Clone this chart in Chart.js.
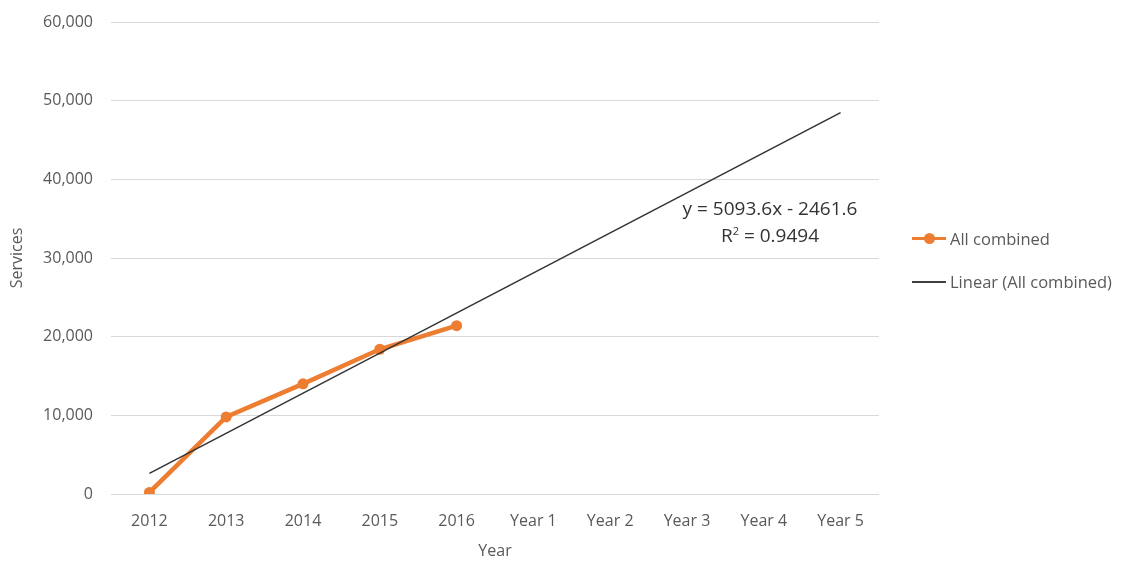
<!DOCTYPE html>
<html lang="en">
<head>
    <meta charset="UTF-8">
    <title>Services by Year</title>
    <script src="https://cdn.jsdelivr.net/npm/chart.js"></script>
    <style>
        body { margin: 0; background: #fff; font-family: "Open Sans", sans-serif; }
        .wrap { position: relative; width: 1139px; height: 562px; }
        .eq { position: absolute; left: 670px; width: 200px; text-align: center; color: #333; font-size: 19px; line-height: 22px; }
        .legend { position: absolute; left: 912px; color: #595959; font-size: 16.5px; display: flex; align-items: center; }
        .swatch { position: relative; width: 34px; height: 3px; margin-right: 4px; }
        .dot { position: absolute; left: 12px; top: -4px; width: 11px; height: 11px; border-radius: 50%; background: #ED7D31; }
    </style>
</head>
<body>
    <div class="wrap">
        <canvas id="chart" width="1139" height="562"></canvas>
        <div class="eq" style="top:197px">y = 5093.6x - 2461.6</div>
        <div class="eq" style="top:220px">R<sup style="font-size:11px">2</sup> = 0.9494</div>
        <div class="legend" style="top:227px"><div class="swatch" style="background:#ED7D31"><div class="dot"></div></div>All combined</div>
        <div class="legend" style="top:270px"><div class="swatch" style="background:#404040;height:2px"></div>Linear (All combined)</div>
    </div>

    <script>
        const years = ['2012', '2013', '2014', '2015', '2016', 'Year 1', 'Year 2', 'Year 3', 'Year 4', 'Year 5'];
        const allCombined = [200, 9800, 14000, 18400, 21400, null, null, null, null, null];
        // trend line end points, gaps spanned between them
        const linearTrend = [2630, null, null, null, null, null, null, null, null, 48470];

        const gridColor = '#D9D9D9';
        const textColor = '#595959';
        const tickFont = { family: 'Open Sans', size: 16 };

        new Chart(document.getElementById('chart'), {
            type: 'line',
            data: {
                labels: years,
                datasets: [
                    {
                        label: 'Linear (All combined)',
                        data: linearTrend,
                        borderColor: '#333333',
                        borderWidth: 1.5,
                        pointRadius: 0,
                        spanGaps: true,
                        order: 0,
                    },
                    {
                        label: 'All combined',
                        data: allCombined,
                        borderColor: '#ED7D31',
                        backgroundColor: '#ED7D31',
                        borderWidth: 4.5,
                        pointRadius: 5.5,
                        pointBorderWidth: 0,
                        spanGaps: false,
                        order: 1,
                    },
                ],
            },
            options: {
                responsive: false,
                animation: false,
                layout: { padding: { top: 22, right: 260, bottom: 0, left: 0 } },
                plugins: {
                    legend: { display: false },
                    tooltip: { enabled: false },
                },
                scales: {
                    x: {
                        offset: true,
                        grid: { display: false },
                        border: { display: false },
                        ticks: { color: textColor, font: tickFont, padding: 10, maxRotation: 0 },
                        title: { display: true, text: 'Year', color: textColor, font: tickFont, padding: { top: 0, bottom: 1 } },
                        afterFit: (s) => { s.height = 68; },
                    },
                    y: {
                        min: 0,
                        max: 60000,
                        grid: { color: gridColor, lineWidth: 1, drawTicks: false },
                        border: { display: false },
                        ticks: {
                            stepSize: 10000,
                            color: textColor,
                            font: tickFont,
                            padding: 18,
                            callback: (v) => v.toLocaleString('en-US'),
                        },
                        title: { display: true, text: 'Services', color: textColor, font: tickFont, padding: { top: 8, bottom: 0 } },
                        afterFit: (s) => { s.width = 111; s.paddingTop = 0; s.paddingBottom = 0; },
                    },
                },
            },
        });
    </script>
</body>
</html>
